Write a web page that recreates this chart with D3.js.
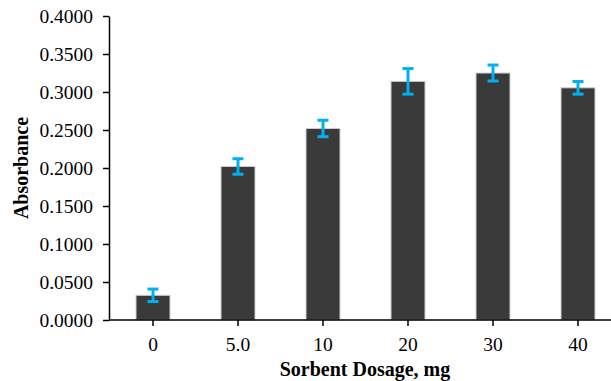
<!DOCTYPE html>
<html><head><meta charset="utf-8">
<script src="https://cdn.jsdelivr.net/npm/d3@7"></script>
<style>body{margin:0;background:#fff;}svg{display:block;} text{font-family:'Liberation Serif','Times New Roman',serif;}</style>
</head><body>
<svg id="c" width="611" height="381"></svg>
<script>
const categories = ["0", "5.0", "10", "20", "30", "40"];
const values = [0.0325, 0.2020, 0.2520, 0.3140, 0.3250, 0.3055];
const errors = [0.0082, 0.0102, 0.0108, 0.0168, 0.0105, 0.0083];
const yTicks = [0, 0.05, 0.1, 0.15, 0.2, 0.25, 0.3, 0.35, 0.4];

const svg = d3.select("#c");
const x = d3.scaleBand().domain(categories).range([110.5, 620.5]).paddingInner(0.6).paddingOuter(0.3);
const y = d3.scaleLinear().domain([0, 0.4]).range([320, 16]);
const font = "'Liberation Serif','Times New Roman',serif";

// bars
svg.append("g").selectAll("rect").data(values).join("rect")
  .attr("x", (d,i)=>x(categories[i]))
  .attr("y", d=>y(d))
  .attr("width", x.bandwidth())
  .attr("height", d=>y(0)-y(d))
  .attr("fill", "#3a3a3a")
  .attr("stroke", "#cfcfcf")
  .attr("stroke-width", 1);

// error bars
const eg = svg.append("g").attr("stroke", "#00b0f0").attr("stroke-width", 3);
values.forEach((v,i)=>{
  const cx = x(categories[i]) + x.bandwidth()/2;
  eg.append("line").attr("x1",cx).attr("x2",cx).attr("y1",y(v+errors[i])).attr("y2",y(v-errors[i]));
  eg.append("line").attr("x1",cx-5.5).attr("x2",cx+5.5).attr("y1",y(v+errors[i])).attr("y2",y(v+errors[i]));
  eg.append("line").attr("x1",cx-5.5).attr("x2",cx+5.5).attr("y1",y(v-errors[i])).attr("y2",y(v-errors[i]));
});

// axes
const yAxis = svg.append("g").attr("transform","translate(109,0)")
  .call(d3.axisLeft(y).tickValues(yTicks).tickFormat(d3.format(".4f")).tickSize(6).tickSizeOuter(0));
const xAxis = svg.append("g").attr("transform","translate(0,320)")
  .call(d3.axisBottom(x).tickSize(6).tickSizeOuter(0));
[yAxis, xAxis].forEach(a=>{
  a.attr("font-family", null).attr("font-size", null);
  a.selectAll("path,line").attr("stroke","#000").attr("stroke-width",1.5);
  a.selectAll("text").style("font-family",font).style("font-size","19.5px").attr("fill","#000");
});
yAxis.selectAll("text").attr("x",-16).attr("dy","0.35em");
xAxis.selectAll("text").attr("y",17);
xAxis.select("path.domain").attr("d","M109,0H611");

svg.append("text").attr("transform","translate(28,168) rotate(-90)")
  .attr("text-anchor","middle").style("font-family",font).attr("font-weight","bold")
  .style("font-size","20px").text("Absorbance");
svg.append("text").attr("x",365).attr("y",376)
  .attr("text-anchor","middle").style("font-family",font).attr("font-weight","bold")
  .style("font-size","20px").text("Sorbent Dosage, mg");
</script>
</body></html>
